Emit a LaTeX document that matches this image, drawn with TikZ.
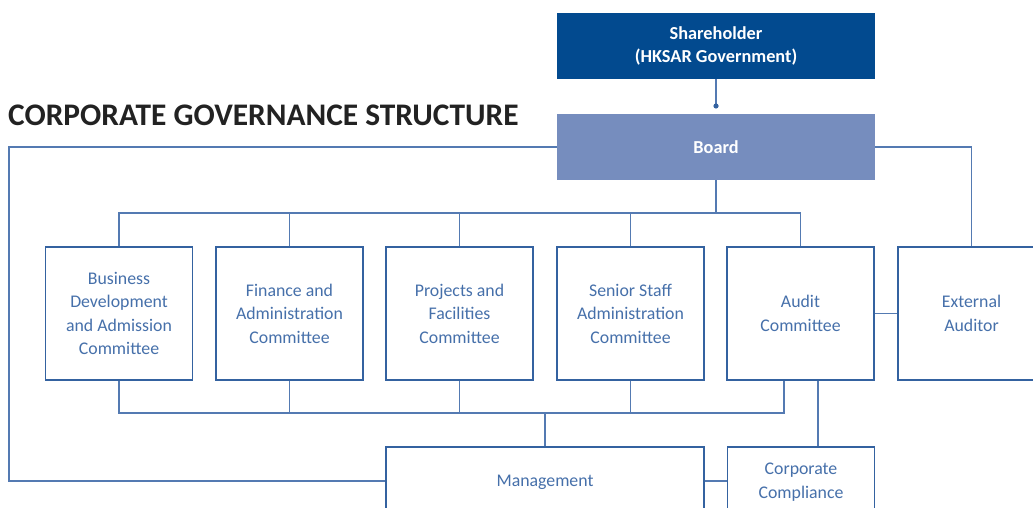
\documentclass[tikz,border=0pt]{standalone}
\usepackage{fontspec}
\setmainfont{Carlito}
\usetikzlibrary{calc}
\definecolor{shblue}{RGB}{2,74,143}
\definecolor{bdblue}{RGB}{118,141,190}
\definecolor{edge}{RGB}{52,98,160}
\definecolor{wire}{RGB}{84,122,178}
\definecolor{boxtext}{RGB}{70,112,170}
\definecolor{titlegrey}{RGB}{34,34,34}
\tikzset{
  topbox/.style={rectangle, inner sep=0pt, minimum width=318pt, minimum height=66pt,
    text=white, align=center, font=\fontsize{18.3}{23}\selectfont\bfseries},
  unitbox/.style={rectangle, draw=edge, line width=1.3pt, fill=white, inner sep=0pt,
    minimum width=147pt, minimum height=133pt, text=boxtext, align=center,
    font=\fontsize{17.8}{23.5}\selectfont},
  wireline/.style={draw=wire, line width=1.3pt},
}
\begin{document}
\begin{tikzpicture}[x=1pt,y=-1pt]
\useasboundingbox (0,0) rectangle (1033,508);
\clip (0,0) rectangle (1033,508);

% title
\node[anchor=base west, inner sep=0pt, text=titlegrey,
      font=\fontsize{31.4}{36}\selectfont\bfseries] (title) at (8,126)
      {CORPORATE GOVERNANCE STRUCTURE};

% top of the structure
\node[topbox, fill=shblue] (sh) at (716,46) {Shareholder\\(HKSAR Government)};
\node[topbox, fill=bdblue] (board) at (716,147) {Board};

% committees
\node[unitbox] (c1) at (119,313.5) {Business\\Development\\and Admission\\Committee};
\node[unitbox] (c2) at (289.5,313.5) {Finance and\\Administration\\Committee};
\node[unitbox] (c3) at (459.5,313.5) {Projects and\\Facilities\\Committee};
\node[unitbox] (c4) at (630.5,313.5) {Senior Staff\\Administration\\Committee};
\node[unitbox] (c5) at (800.5,313.5) {Audit\\Committee};
\node[unitbox] (ext) at (971.5,313.5) {External\\Auditor};

% lower level (boxes run past the lower edge)
\node[unitbox, minimum width=318pt, minimum height=70pt] (mgmt) at (545,482) {Management};
\node[unitbox, minimum height=70pt] (comp) at (801,482) {Corporate\\Compliance};

% shareholder to board
\coordinate (tip) at (716,106);
\draw[wireline] (sh.south) -- (tip);
\fill[edge] (tip) circle (2.6pt);

% board to management (left loop) and to external auditor
\coordinate (lc) at (9,147);
\coordinate (ml) at (mgmt.west |- 0,481);
\draw[wireline] (board.west) -- (lc) |- (ml);
\draw[wireline] (board.east) -| (ext.north);

% board to committees
\coordinate (topbus) at (716,213);
\draw[wireline] (board.south) -- (topbus);
\draw[wireline] (c1.north) |- (topbus) -| (c5.north);
\foreach \c in {c2,c3,c4} \draw[wireline] (\c.north) -- (\c.north |- topbus);

% committees to management
\coordinate (a5) at ($(c5.south)+(-16.5,0)$);
\coordinate (lowbus) at (545,413);
\draw[wireline] (c1.south) |- (lowbus) -| (a5);
\foreach \c in {c2,c3,c4} \draw[wireline] (\c.south) -- (\c.south |- lowbus);
\draw[wireline] (mgmt.north) -- (lowbus);

% audit committee links
\coordinate (a6) at ($(c5.south)+(17.5,0)$);
\draw[wireline] (a6) -- (a6 |- comp.north);
\draw[wireline] (c5.east) -- (ext.west);
\coordinate (mr) at (mgmt.east |- ml);
\draw[wireline] (mr) -- (mr -| comp.west);
\end{tikzpicture}
\end{document}
